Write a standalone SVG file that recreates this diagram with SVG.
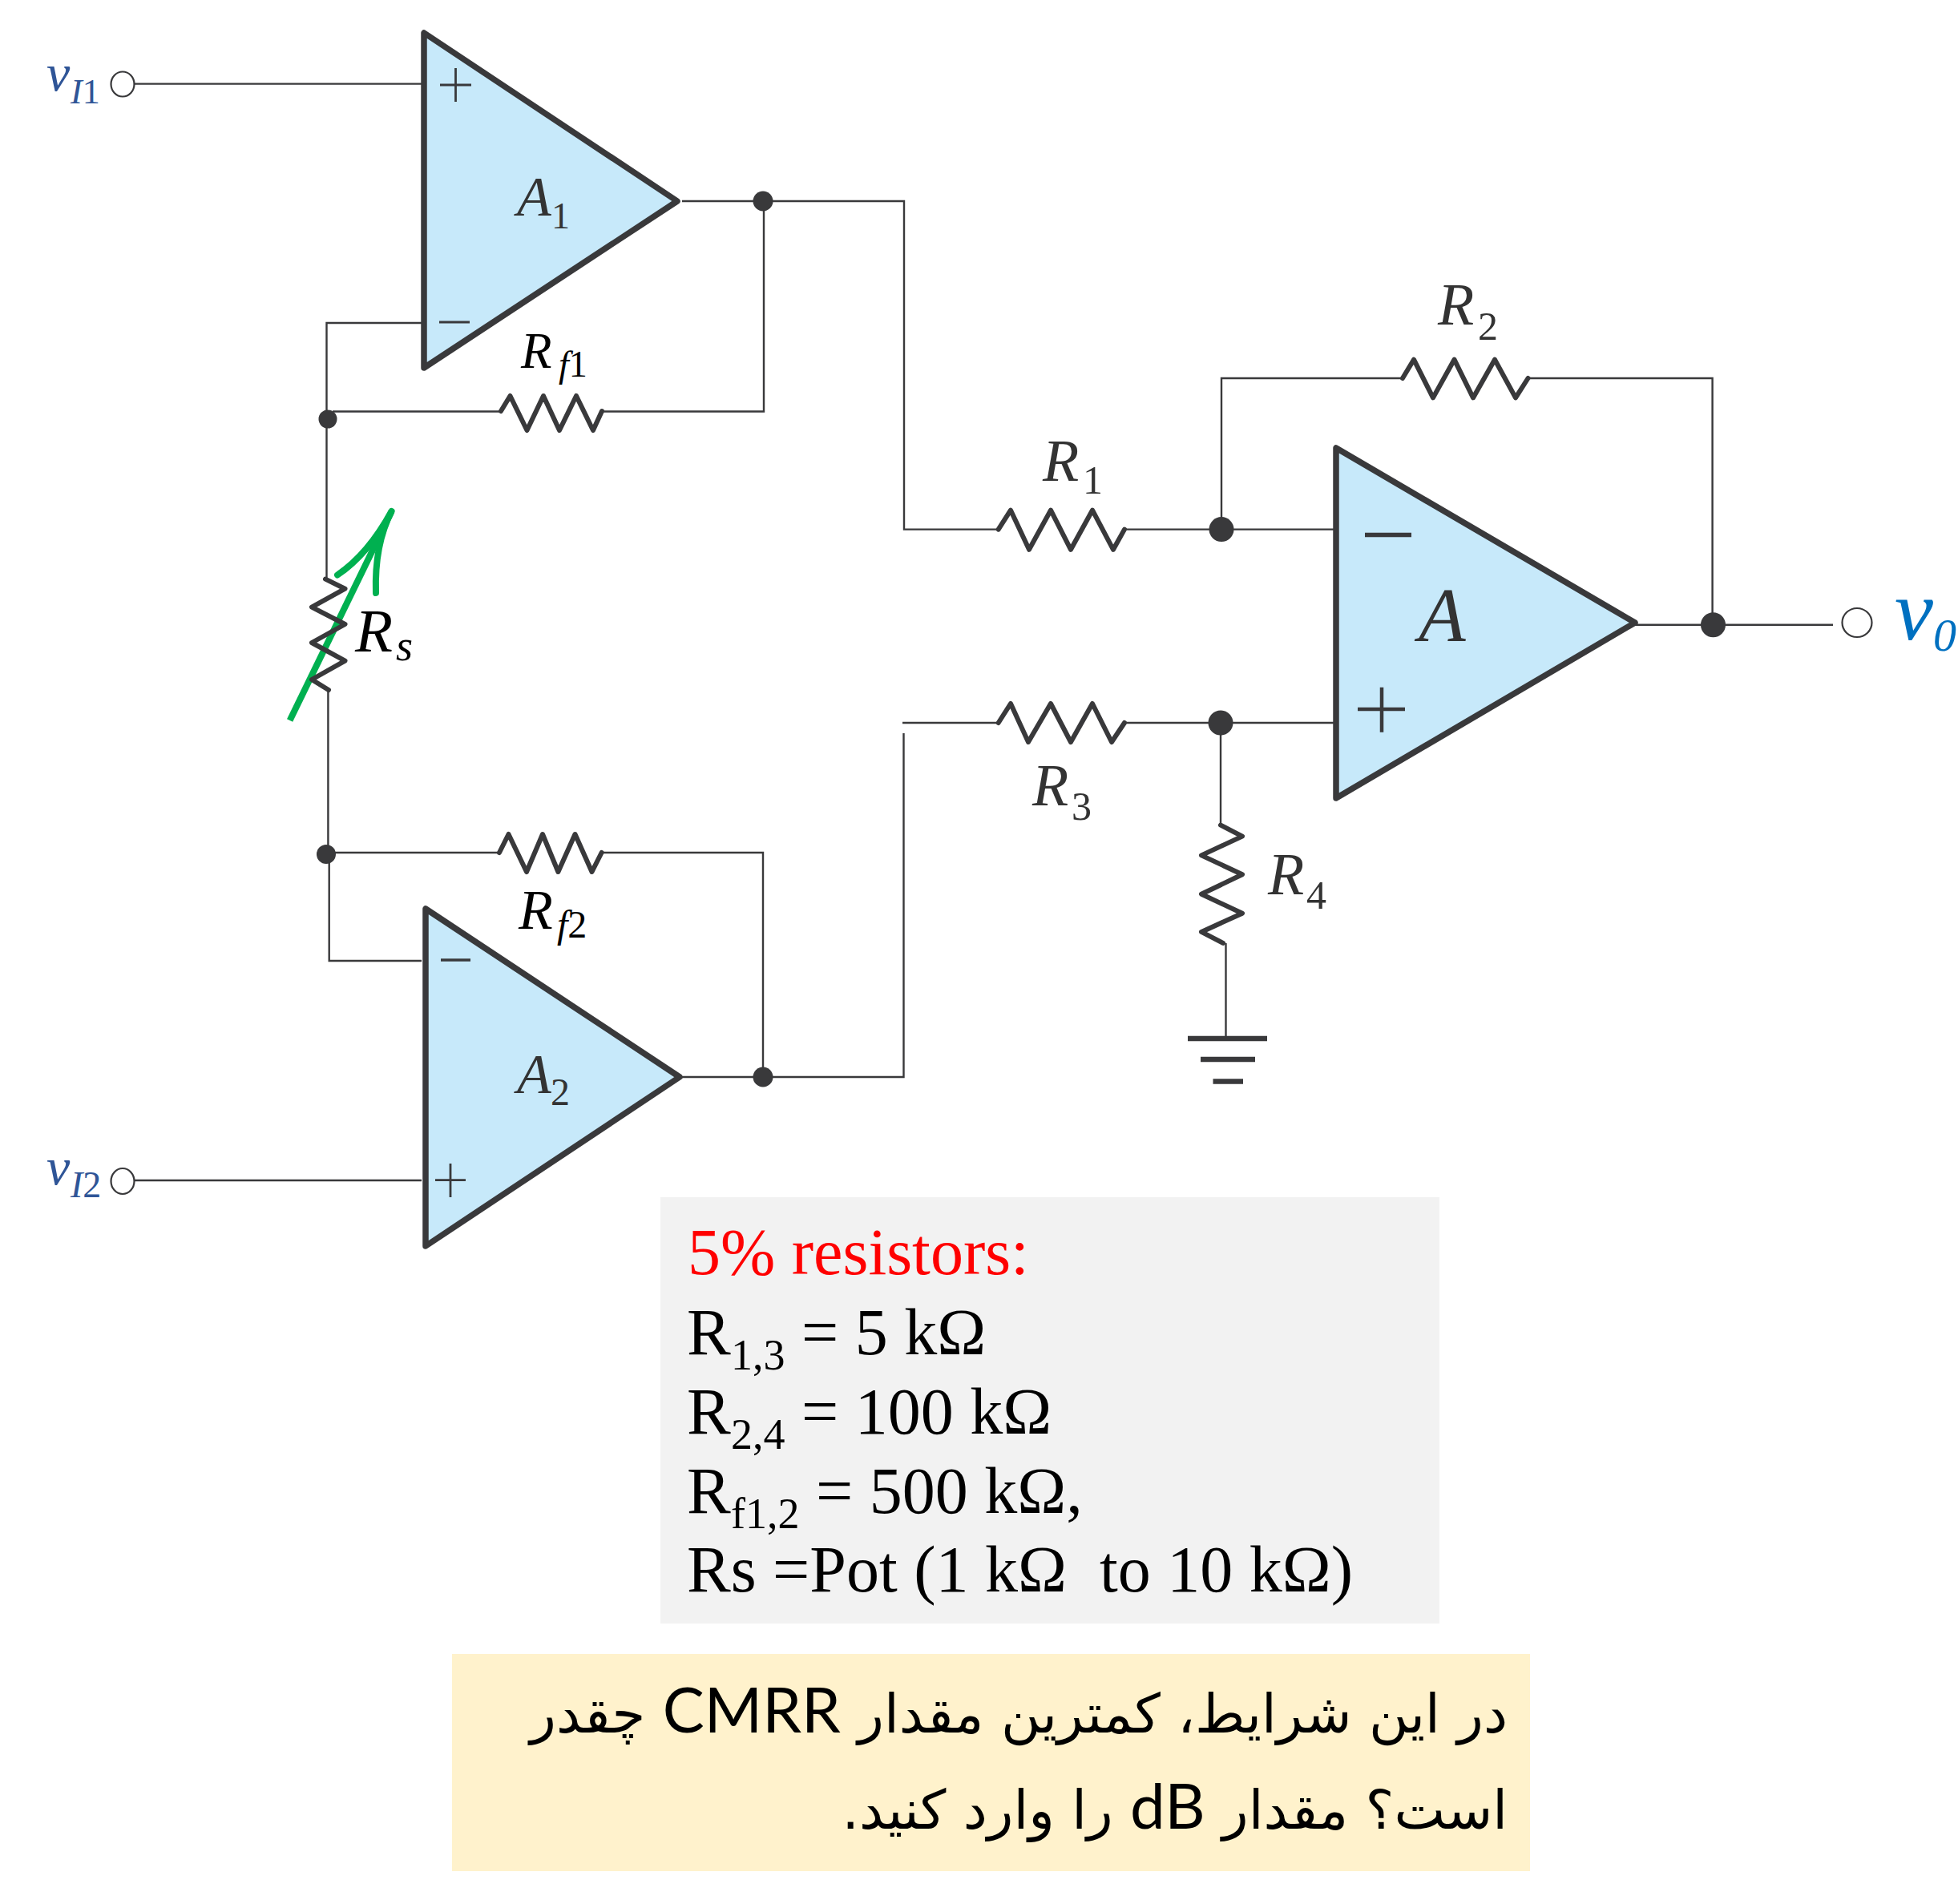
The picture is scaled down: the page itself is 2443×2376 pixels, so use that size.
<svg xmlns="http://www.w3.org/2000/svg" width="2443" height="2376" viewBox="0 0 2443 2376">
<style>
.w{fill:none;stroke:#39393b;stroke-width:2.4}
.z{fill:none;stroke:#39393b;stroke-width:6;stroke-linejoin:round;stroke-linecap:round}
.op{fill:#c7e9fa;stroke:#39393b;stroke-width:7.5;stroke-linejoin:round}
.s{fill:none;stroke:#39393b;stroke-width:2.8}
.m{fill:none;stroke:#39393b;stroke-width:5}
.d{fill:#39393b}
.o{fill:#fff;stroke:#39393b;stroke-width:2.2}
.i{font-family:"Liberation Serif",serif;font-style:italic;fill:#333}
.n{font-family:"Liberation Serif",serif;fill:#333}
.u{font-style:normal}
.k{fill:#000}
.vi{fill:#2f5597}
.t{font-family:"Liberation Serif",serif;font-size:82px;fill:#000;white-space:pre}
.sb{font-size:54px}
.fa{font-family:"DejaVu Sans",sans-serif;font-size:67.500px;fill:#000}
.la{font-family:"Lato","DejaVu Sans",sans-serif;font-size:78px}
</style>
<g id="connectors">
<path class="w" d="M168 104.6H526"/>
<path class="w" d="M526 403H407.5V722"/>
<path class="w" d="M415 513.500H625"/>
<path class="w" d="M751 513.500H953V251"/>
<path class="w" d="M851 251H1128V660.6H1245"/>
<path class="w" d="M1403 660.6H1665"/>
<path class="w" d="M1524 660.6V472H1750"/>
<path class="w" d="M1908 472H2136.6V777"/>
<path class="w" d="M2040 779.8H2287"/>
<path class="w" d="M1126 902H1245"/>
<path class="w" d="M1403 902H1665"/>
<path class="w" d="M1523 902V1030"/>
<path class="w" d="M1529.500 1177V1293"/>
<path class="w" d="M1127.500 915V1344H848"/>
<path class="w" d="M409.4 861V1064"/>
<path class="w" d="M415 1064H623"/>
<path class="w" d="M751 1064H952V1344"/>
<path class="w" d="M410.7 1066V1199H526"/>
<path class="w" d="M167 1473H526"/>
</g>
<g id="junctions">
<circle class="d" cx="952" cy="251" r="12.500"/>
<circle class="d" cx="409" cy="523" r="11.500"/>
<circle class="d" cx="407" cy="1066" r="12"/>
<circle class="d" cx="952" cy="1344" r="12.500"/>
<circle class="d" cx="1524" cy="660.6" r="15.500"/>
<circle class="d" cx="1523" cy="902" r="15.500"/>
<circle class="d" cx="2137.5" cy="779.8" r="15.5"/>
</g>
<g id="vI1">
<ellipse class="o" cx="153" cy="105" rx="14.5" ry="15.5"/>
<text class="i vi" font-size="66" x="58" y="113">v</text>
<text class="i vi" font-size="44" x="88" y="129">I<tspan class="u">1</tspan></text>
</g>
<g id="vI2">
<ellipse class="o" cx="153" cy="1474" rx="14.5" ry="16"/>
<text class="i vi" font-size="66" x="58" y="1478">v</text>
<text class="i vi" font-size="46" x="88" y="1494">I<tspan class="u">2</tspan></text>
</g>
<g id="vO">
<ellipse class="o" cx="2317" cy="777" rx="18.5" ry="18"/>
<text class="i" style="fill:#0070c0" font-size="108" x="2364" y="798">v</text>
<text class="i" style="fill:#0070c0" font-size="58" x="2412" y="812">0</text>
</g>
<g id="A1">
<path class="op" d="M529 41V459L845 251Z"/>
<path class="s" d="M549 106H588M568.500 85V127"/>
<path class="s" d="M548 402H586"/>
<text class="i" font-size="70" x="645" y="269">A</text>
<text class="n" font-size="46" x="688" y="285">1</text>
</g>
<g id="A2">
<path class="op" d="M531 1134V1555L848 1344Z"/>
<path class="m" style="stroke-width:3.500" d="M550 1198H587"/>
<path class="s" d="M543 1472.600H581M562 1452V1494"/>
<text class="i" font-size="70" x="645" y="1363.600">A</text>
<text class="n" font-size="48" x="687" y="1379">2</text>
</g>
<g id="A">
<path class="op" d="M1667 559V996L2040 777Z"/>
<path class="m" style="stroke-width:5.500" d="M1703 667.600H1761"/>
<path class="m" style="stroke-width:4.500" d="M1694 885H1753M1724 857.700V913.800"/>
<text class="i" font-size="96" x="1770" y="800">A</text>
</g>
<g id="Rf1">
<path class="z" d="M625 513L636.500 494L657.500 537L678 494L698 537L719 494L740 537L751 513"/>
<text class="i k" font-size="63" x="650" y="459">R</text>
<text class="i k" font-size="46" x="697" y="470">f<tspan class="u">1</tspan></text>
</g>
<g id="Rf2">
<path class="z" d="M623 1064L634.500 1041L657 1088L677 1041L696.400 1088L717.500 1041L738.500 1088L750.600 1064"/>
<text class="i k" font-size="70" x="647" y="1159">R</text>
<text class="i k" font-size="48" x="695" y="1169.500">f<tspan class="u">2</tspan></text>
</g>
<g id="Rs">
<path d="M361.600 899L488.600 638" fill="none" stroke="#00b050" stroke-width="8"/>
<path d="M421 717.500Q459 692 488.600 638Q467 680 469 740" fill="none" stroke="#00b050" stroke-width="8" stroke-linecap="round" stroke-linejoin="round"/>
<path class="z" d="M406 722.600L430.500 734.700L389 757.600L430.500 779L389 802L430.500 824.600L389 848L410 861"/>
<text class="i k" font-size="77" x="443" y="813">R</text>
<text class="i k" font-size="54" x="494" y="824">s</text>
</g>
<g id="R1">
<path class="z" d="M1245.700 660.600L1261 636.700L1284 685.800L1311 636.700L1336 685.800L1363 636.700L1389 685.800L1403 660.600"/>
<text class="i" font-size="74" x="1301" y="600">R</text>
<text class="n" font-size="50" x="1351" y="616">1</text>
</g>
<g id="R2">
<path class="z" d="M1750 472L1764 448.700L1788 496.400L1814.500 448.700L1838 496.400L1865 448.700L1891 496.400L1906.500 472"/>
<text class="i" font-size="74" x="1794" y="405">R</text>
<text class="n" font-size="50" x="1844" y="424">2</text>
</g>
<g id="R3">
<path class="z" d="M1245.700 902L1261 878L1283 926L1311 878L1336 926L1363 878L1387 926L1403 902"/>
<text class="i" font-size="74" x="1288" y="1005">R</text>
<text class="n" font-size="50" x="1337" y="1023">3</text>
</g>
<g id="R4">
<path class="z" d="M1523 1029.600L1550 1043.600L1499 1067.400L1550 1091.300L1499 1115.800L1550 1139.700L1499 1162.900L1526 1176.900"/>
<text class="i" font-size="74" x="1582" y="1116">R</text>
<text class="n" font-size="50" x="1630" y="1134">4</text>
</g>
<g id="ground">
<path class="m" style="stroke-width:6.500" d="M1482 1296H1581M1498 1322H1566M1513.500 1349.500H1551"/>
</g>
<g id="values">
<rect x="824" y="1494" width="972" height="532" fill="#f2f2f2"/>
<text class="t" x="858" y="1590" style="fill:#ff0000">5% resistors:</text>
<text class="t" y="1689.600"><tspan x="857">R</tspan><tspan class="sb" x="912" y="1708.600">1,3</tspan><tspan x="1000" y="1689.600">= 5 kΩ</tspan></text>
<text class="t" y="1789"><tspan x="857">R</tspan><tspan class="sb" x="912" y="1808">2,4</tspan><tspan x="1000" y="1789">= 100 kΩ</tspan></text>
<text class="t" y="1888"><tspan x="857">R</tspan><tspan class="sb" x="912" y="1907">f1,2</tspan><tspan x="1018" y="1888">= 500 kΩ,</tspan></text>
<text class="t" x="857" y="1986">Rs =Pot (1 kΩ  to 10 kΩ)</text>
</g>
<g id="question">
<rect x="564" y="2064" width="1345" height="271" fill="#fff2cc"/>
<text class="fa" x="1881" y="2161.600" direction="rtl" text-anchor="start">در این شرایط، کمترین مقدار <tspan class="la">CMRR</tspan> چقدر</text>
<text class="fa" x="1881" y="2282" direction="rtl" text-anchor="start">است؟ مقدار <tspan class="la">dB</tspan> را وارد کنید.</text>
</g>
</svg>
